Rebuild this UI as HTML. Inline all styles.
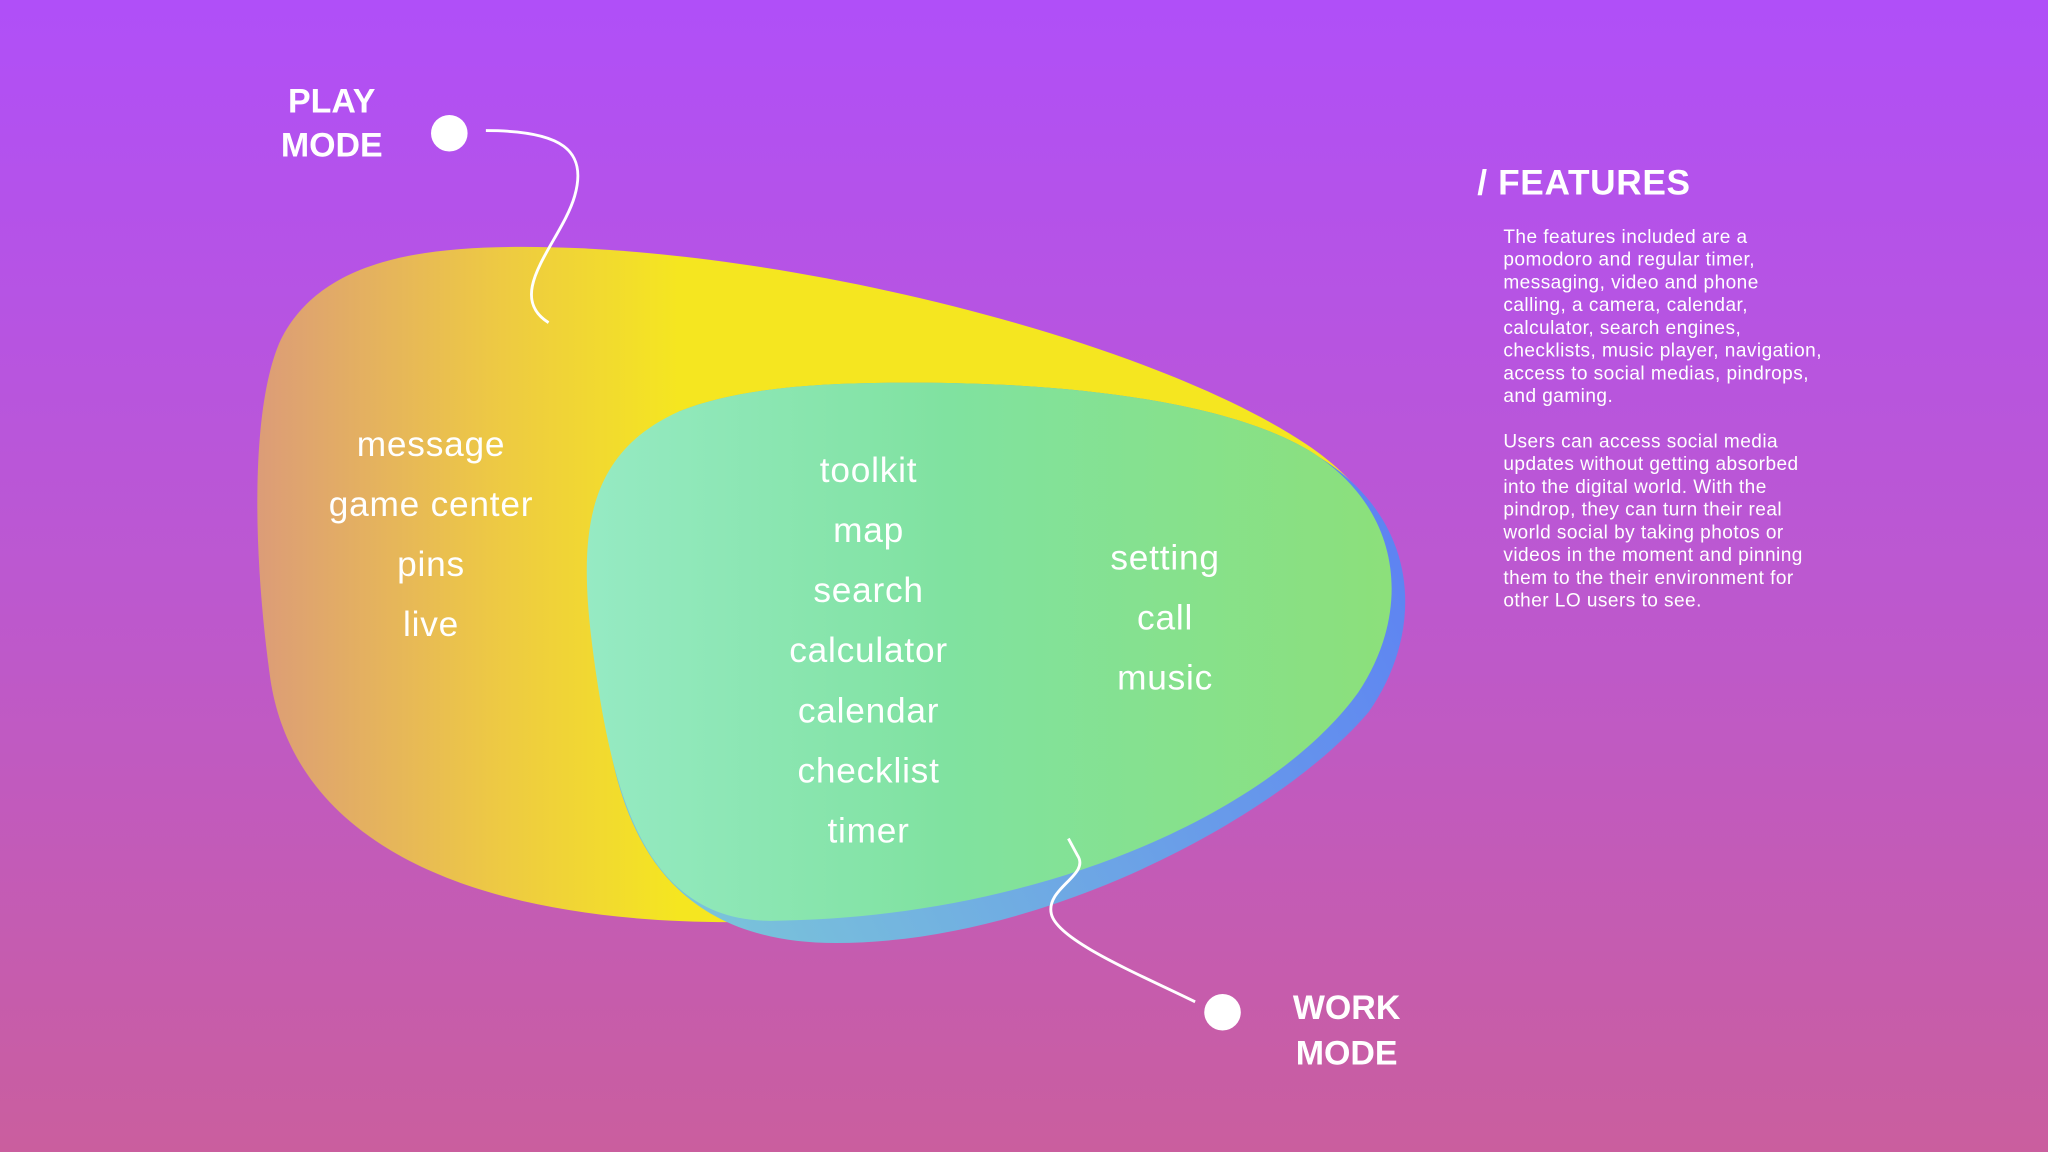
<!DOCTYPE html>
<html><head><meta charset="utf-8"><style>
html,body{margin:0;padding:0;width:2048px;height:1152px;overflow:hidden}
svg{display:block}
text{font-family:"Liberation Sans",sans-serif;fill:#fff}
</style></head><body>
<svg width="2048" height="1152" viewBox="0 0 1568 882" xmlns="http://www.w3.org/2000/svg">
<defs>
<linearGradient id="bg" x1="0" y1="0" x2="0" y2="1">
<stop offset="0" stop-color="#B04FF8"/><stop offset="0.5" stop-color="#BC58D0"/><stop offset="1" stop-color="#CA5E9E"/>
</linearGradient>
<linearGradient id="yel" x1="197" y1="0" x2="520" y2="0" gradientUnits="userSpaceOnUse">
<stop offset="0" stop-color="#DC9C78"/><stop offset="0.55" stop-color="#EDC845"/><stop offset="1" stop-color="#F5E620"/>
</linearGradient>
<linearGradient id="blu" x1="500" y1="720" x2="1070" y2="430" gradientUnits="userSpaceOnUse">
<stop offset="0" stop-color="#7CC8D8"/><stop offset="1" stop-color="#5E84F2"/>
</linearGradient>
<linearGradient id="grn" x1="445" y1="0" x2="1070" y2="0" gradientUnits="userSpaceOnUse">
<stop offset="0" stop-color="#96EAC4"/><stop offset="0.45" stop-color="#80E2A0"/><stop offset="1" stop-color="#8CE07A"/>
</linearGradient>
</defs>
<rect width="1568" height="882" fill="url(#bg)"/>
<path d="M400,189 C600,189 880,260 1000,340 C1090,400 1080,480 1030,540 C950,630 750,706 560,706 C350,706 225,640 207,520 C193,420 192,310 215,260 C245,200 320,189 400,189 Z" fill="url(#yel)"/>
<path d="M700,293 C850,293 960,315 1010,350 C1090,400 1090,485 1048,545 C980,625 800,722 640,722 C530,722 480,660 465,560 C450,450 445,360 520,315 C570,295 640,293 700,293 Z" fill="url(#blu)"/>
<path d="M700,293 C850,293 960,315 1010,350 C1075,395 1080,470 1040,530 C975,620 800,703 590,705 C500,705 472,620 457,520 C442,420 442,350 520,315 C570,295 640,293 700,293 Z" fill="url(#grn)"/>
<path d="M372,100 C430,100 450,115 440,150 C430,185 385,225 420,247" fill="none" stroke="#fff" stroke-width="2.2"/>
<path d="M915,767 C870,745 810,720 805,700 C800,680 835,670 825,655 L818,642" fill="none" stroke="#fff" stroke-width="2.2"/>
<circle cx="344" cy="102" r="14" fill="#fff"/>
<circle cx="936" cy="775" r="14" fill="#fff"/>
<g font-weight="bold" font-size="26" text-anchor="middle">
<text x="254" y="86">PLAY</text><text x="254" y="120">MODE</text>
<text x="1031" y="780">WORK</text><text x="1031" y="815">MODE</text>
</g>
<g font-size="27" text-anchor="middle" letter-spacing="0.6">
<text x="330" y="349">message</text><text x="330" y="395">game center</text><text x="330" y="441">pins</text><text x="330" y="487">live</text>
<text x="665" y="369">toolkit</text><text x="665" y="415">map</text><text x="665" y="461">search</text><text x="665" y="507">calculator</text><text x="665" y="553">calendar</text><text x="665" y="599">checklist</text><text x="665" y="645">timer</text>
<text x="892" y="436">setting</text><text x="892" y="482">call</text><text x="892" y="528">music</text>
</g>
<text x="1131" y="149" font-size="27" font-weight="bold" letter-spacing="0.5">/ FEATURES</text>
<g font-size="14.6" letter-spacing="0.35">
<text x="1151" y="186">The features included are a</text>
<text x="1151" y="203.4">pomodoro and regular timer,</text>
<text x="1151" y="220.8">messaging, video and phone</text>
<text x="1151" y="238.2">calling, a camera, calendar,</text>
<text x="1151" y="255.6">calculator, search engines,</text>
<text x="1151" y="273">checklists, music player, navigation,</text>
<text x="1151" y="290.4">access to social medias, pindrops,</text>
<text x="1151" y="307.8">and gaming.</text>
<text x="1151" y="342.6">Users can access social media</text>
<text x="1151" y="360">updates without getting absorbed</text>
<text x="1151" y="377.4">into the digital world. With the</text>
<text x="1151" y="394.8">pindrop, they can turn their real</text>
<text x="1151" y="412.2">world social by taking photos or</text>
<text x="1151" y="429.6">videos in the moment and pinning</text>
<text x="1151" y="447">them to the their environment for</text>
<text x="1151" y="464.4">other LO users to see.</text>
</g>
</svg>
</body></html>
